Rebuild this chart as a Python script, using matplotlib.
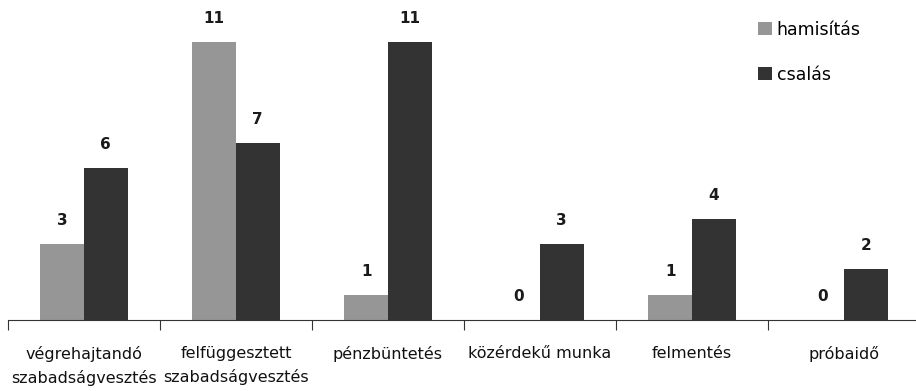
import matplotlib
matplotlib.use("Agg")
import matplotlib.pyplot as plt
import numpy as np

categories = ["végrehajtandó\nszabadságvesztés", "felfüggesztett\nszabadságvesztés",
              "pénzbüntetés", "közérdekű munka", "felmentés", "próbaidő"]
hamisitas = [3, 11, 1, 0, 1, 0]
csalas = [6, 7, 11, 3, 4, 2]
series_names = ["hamisítás", "csalás"]

fig = plt.figure(figsize=(9.16, 3.91), dpi=100)
W, H = 916, 391
ax = fig.add_axes([8 / W, (H - 320) / H, 912 / W, 320 / H])

x = np.arange(len(categories))
bw = 0.287
b1 = ax.bar(x - bw / 2, hamisitas, bw, color="#969696", label=series_names[0])
b2 = ax.bar(x + bw / 2, csalas, bw, color="#333333", label=series_names[1])

for bars, vals in ((b1, hamisitas), (b2, csalas)):
    for rect, v in zip(bars, vals):
        ax.annotate(str(v), (rect.get_x() + rect.get_width() / 2, v),
                    xytext=(0, 17), textcoords="offset points",
                    ha="center", va="center", fontsize=11, fontweight="bold",
                    color="#1a1a1a")

ax.set_xlim(-0.5, len(categories) - 0.5)
ax.set_ylim(0, 12.66)
ax.set_yticks([])
ax.set_xticks(x)
ax.set_xticklabels(categories, fontsize=11.5, linespacing=1.55, color="#111111")
ax.set_xticks(np.arange(len(categories) + 1) - 0.5, minor=True)
ax.tick_params(axis="x", which="major", length=0, pad=19)
ax.tick_params(axis="x", which="minor", length=7, width=0.8, color="#333333")
for s in ("top", "right", "left"):
    ax.spines[s].set_visible(False)
ax.spines["bottom"].set_color("#333333")
ax.spines["bottom"].set_linewidth(0.8)

ax.legend(loc="upper left", bbox_to_anchor=(742 / W, 1 - 5 / H),
          bbox_transform=fig.transFigure, frameon=False, fontsize=12.5,
          handlelength=0.8, handleheight=0.8, handletextpad=0.3,
          labelspacing=1.55)

fig.savefig("out.png", dpi=100)
